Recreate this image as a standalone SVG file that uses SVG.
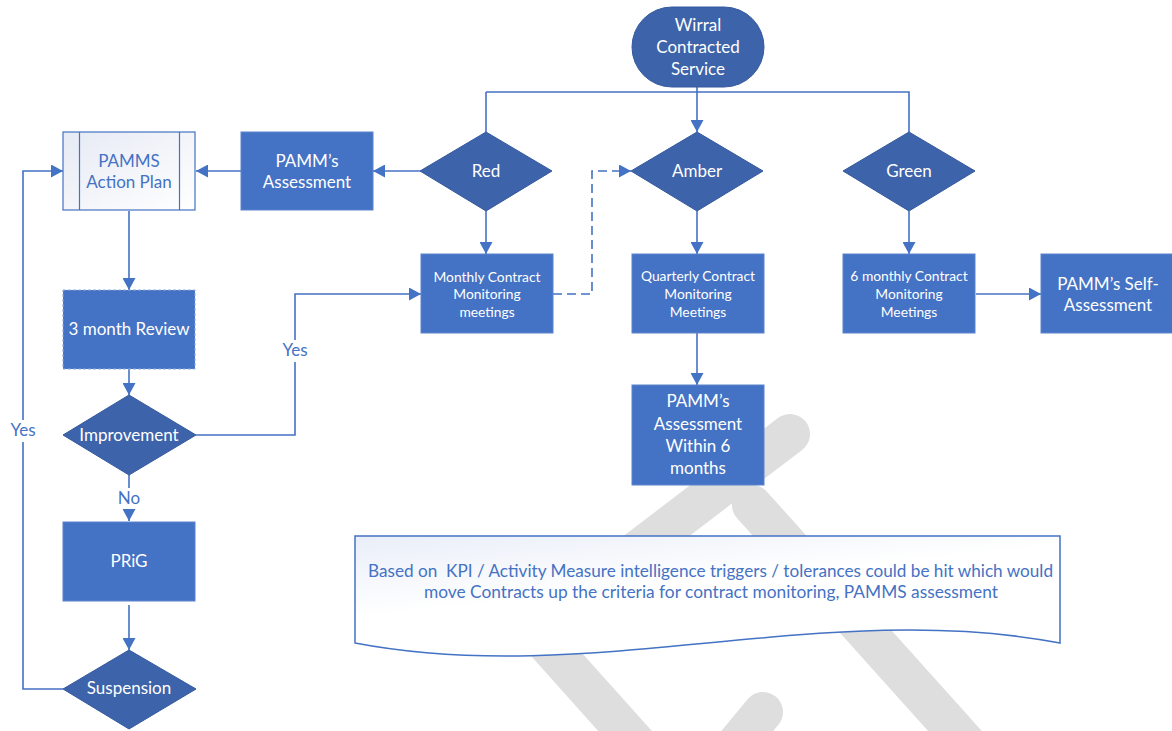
<svg xmlns="http://www.w3.org/2000/svg" width="1172" height="731" viewBox="0 0 1172 731">
<defs>
<style>
.box{fill:#4472C4;stroke:#5B84CC;stroke-width:1}
.dia{fill:#3D63AA;stroke:#34599E;stroke-width:1}
.t{font-family:Lato,"Liberation Sans",sans-serif;fill:#fff;text-anchor:middle}
.big{font-size:17px}
.sm{font-size:13.8px}
.bl{fill:#4472C4}
.c{fill:none;stroke:#4472C4;stroke-width:1.6}
.ar{marker-end:url(#ah)}
.wm{fill:none;stroke:#DEDEDE;stroke-width:40;stroke-linecap:round;stroke-linejoin:round}
</style>
<marker id="ah" markerUnits="userSpaceOnUse" markerWidth="13" markerHeight="13" refX="12" refY="6.5" orient="auto">
<path d="M0,0 L12,6.5 L0,13 z" fill="#4472C4"/>
</marker>
<linearGradient id="gAP" x1="0" y1="0" x2="1" y2="1">
<stop offset="0" stop-color="#E6EAF4"/>
<stop offset="1" stop-color="#FFFFFF"/>
</linearGradient>
<linearGradient id="gDoc" x1="0" y1="0" x2="0.6" y2="1">
<stop offset="0" stop-color="#E9EEF8"/>
<stop offset="0.5" stop-color="#FFFFFF"/>
<stop offset="1" stop-color="#FFFFFF"/>
</linearGradient>
</defs>
<rect width="1172" height="731" fill="#fff"/>
<g id="watermark">
<path class="wm" d="M790,434 L540,625"/>
<path class="wm" d="M752,505 L990,770"/>
<path class="wm" d="M548,645 L660,770"/>
<path class="wm" d="M763,712 L715,770"/>
</g>
<g id="connectors">
<path class="c" d="M486,92 H909 V132"/>
<path class="c" d="M486,92 V132"/>
<path class="c ar" d="M697,87 V132"/>
<path class="c ar" d="M420,171 H373"/>
<path class="c ar" d="M241,171 H196"/>
<path class="c ar" d="M486,211 V254"/>
<path class="c ar" d="M553,294 H592 V171 H631" stroke-dasharray="9,5"/>
<path class="c ar" d="M697,211 V254"/>
<path class="c ar" d="M697,333 V385"/>
<path class="c ar" d="M909,211 V254"/>
<path class="c ar" d="M976,294 H1041"/>
<path class="c ar" d="M129,211 V290"/>
<path class="c ar" d="M129,369 V395"/>
<path class="c ar" d="M196,435 H295 V294 H421"/>
<path class="c ar" d="M129,475 V521"/>
<path class="c ar" d="M129,605 V650"/>
<path class="c ar" d="M63,689 H23 V171 H63"/>
<rect x="283" y="340" width="24" height="22" fill="#fff"/>
<text class="t big bl" x="295" y="356">Yes</text>
<rect x="10" y="420" width="26" height="22" fill="#fff"/>
<text class="t big bl" x="23" y="436">Yes</text>
<rect x="116" y="488" width="26" height="21" fill="#fff"/>
<text class="t big bl" x="129" y="504">No</text>
</g>
<g id="wirral">
<rect x="632" y="7" width="132" height="80" rx="40" ry="40" class="dia"/>
<text class="t big" x="698" y="31">Wirral</text>
<text class="t big" x="698" y="53">Contracted</text>
<text class="t big" x="698" y="75">Service</text>
</g>
<g id="red">
<path class="dia" d="M486,132 L552,171 L486,211 L420,171 z"/>
<text class="t big" x="486" y="177">Red</text>
</g>
<g id="amber">
<path class="dia" d="M697,132 L763,171 L697,211 L631,171 z"/>
<text class="t big" x="697" y="177">Amber</text>
</g>
<g id="green">
<path class="dia" d="M909,132 L975,171 L909,211 L843,171 z"/>
<text class="t big" x="909" y="177">Green</text>
</g>
<g id="pamm-assessment">
<rect class="box" x="241" y="132" width="132" height="78"/>
<text class="t big" x="307" y="167">PAMM’s</text>
<text class="t big" x="307" y="188">Assessment</text>
</g>
<g id="action-plan">
<rect x="63" y="132" width="132" height="78" fill="url(#gAP)" stroke="#4472C4" stroke-width="1.2"/>
<path d="M79.5,132 V210 M179.5,132 V210" stroke="#4472C4" stroke-width="1.2"/>
<text class="t big bl" x="129" y="167">PAMMS</text>
<text class="t big bl" x="129" y="188">Action Plan</text>
</g>
<g id="monthly">
<rect class="box" x="421" y="254" width="132" height="79"/>
<text class="t sm" x="487" y="282">Monthly Contract</text>
<text class="t sm" x="487" y="299">Monitoring</text>
<text class="t sm" x="487" y="317">meetings</text>
</g>
<g id="quarterly">
<rect class="box" x="632" y="254" width="132" height="79"/>
<text class="t sm" x="698" y="281">Quarterly Contract</text>
<text class="t sm" x="698" y="299">Monitoring</text>
<text class="t sm" x="698" y="317">Meetings</text>
</g>
<g id="six-monthly">
<rect class="box" x="843" y="254" width="132" height="79"/>
<text class="t sm" x="909" y="281">6 monthly Contract</text>
<text class="t sm" x="909" y="299">Monitoring</text>
<text class="t sm" x="909" y="317">Meetings</text>
</g>
<g id="self-assessment">
<rect class="box" x="1041" y="254" width="132" height="79"/>
<text class="t big" x="1108" y="290">PAMM’s Self-</text>
<text class="t big" x="1108" y="311">Assessment</text>
</g>
<g id="within-6">
<rect class="box" x="632" y="385" width="132" height="100"/>
<text class="t big" x="698" y="407">PAMM’s</text>
<text class="t big" x="698" y="430">Assessment</text>
<text class="t big" x="698" y="452">Within 6</text>
<text class="t big" x="698" y="474">months</text>
</g>
<g id="review">
<rect x="63" y="290" width="132" height="79" fill="#4472C4" stroke="#8FAADC" stroke-width="1" stroke-dasharray="3,2"/>
<text class="t big" x="129" y="335">3 month Review</text>
</g>
<g id="improvement">
<path class="dia" d="M129,395 L196,435 L129,475 L63,435 z"/>
<text class="t big" x="129" y="441">Improvement</text>
</g>
<g id="prig">
<rect class="box" x="63" y="522" width="132" height="79"/>
<text class="t big" x="129" y="567">PRiG</text>
</g>
<g id="suspension">
<path class="dia" d="M129,650 L196,689 L129,729 L63,689 z"/>
<text class="t big" x="129" y="694">Suspension</text>
</g>
<g id="note">
<path d="M355,536 H1060 V643 C825,598 590,688 355,643 Z" fill="url(#gDoc)" stroke="#4472C4" stroke-width="1.5"/>
<text class="t bl" font-size="17" x="710.5" y="577" xml:space="preserve" textLength="685" lengthAdjust="spacingAndGlyphs">Based on  KPI / Activity Measure intelligence triggers / tolerances could be hit which would</text>
<text class="t bl" font-size="17" x="711" y="598" textLength="574" lengthAdjust="spacingAndGlyphs">move Contracts up the criteria for contract monitoring, PAMMS assessment</text>
</g>
</svg>
